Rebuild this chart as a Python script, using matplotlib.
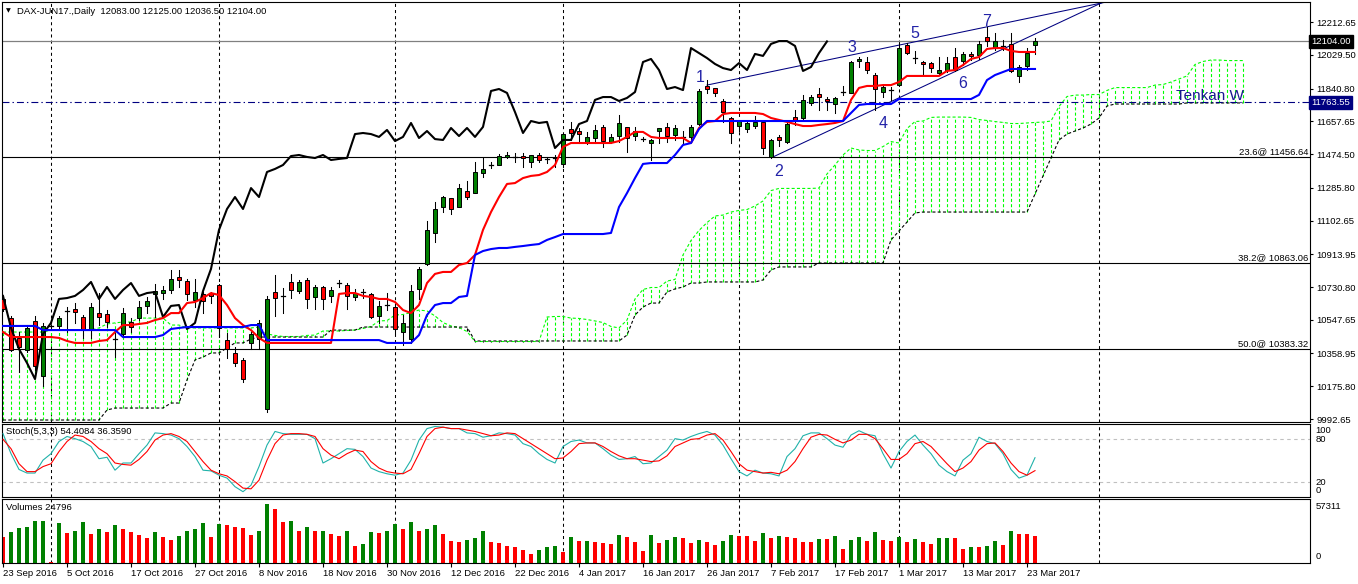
import matplotlib
matplotlib.use("Agg")
import matplotlib.pyplot as plt
from matplotlib.patches import Rectangle

# ---------------- data ----------------
DATE_LABELS = ["23 Sep 2016", "5 Oct 2016", "17 Oct 2016", "27 Oct 2016", "8 Nov 2016",
               "18 Nov 2016", "30 Nov 2016", "12 Dec 2016", "22 Dec 2016", "4 Jan 2017",
               "16 Jan 2017", "26 Jan 2017", "7 Feb 2017", "17 Feb 2017", "1 Mar 2017",
               "13 Mar 2017", "23 Mar 2017"]

OPEN = [10664, 10557, 10446, 10378, 10541, 10233, 10513, 10513, 10597, 10608,
        10563, 10496, 10585, 10580, 10440, 10468, 10535, 10557, 10625, 10692,
        10697, 10714, 10787, 10764, 10658, 10692, 10697, 10742, 10434, 10362,
        10323, 10418, 10440, 10049, 10703, 10681, 10759, 10708, 10770, 10675,
        10731, 10681, 10753, 10742, 10675, 10703, 10692, 10569, 10630, 10619,
        10479, 10440, 10720, 10859, 11033, 11178, 11229, 11178, 11268, 11256,
        11368, 11413, 11413, 11458, 11458, 11463, 11430, 11469, 11447, 11452,
        11419, 11614, 11603, 11542, 11564, 11626, 11542, 11575, 11626, 11575,
        11558, 11536, 11603, 11626, 11581, 11570, 11570, 11642, 11855, 11844,
        11771, 11676, 11631, 11614, 11631, 11654, 11458, 11570, 11542, 11681,
        11676, 11760, 11810, 11782, 11754, 11821, 11816, 11995, 11989, 11916,
        11821, 11832, 11860, 12084, 12011, 11989, 11983, 11928, 11944, 12017,
        11995, 12034, 12028, 12129, 12073, 12079, 12090, 11911, 11967, 12083]
HIGH = [10680, 10569, 10479, 10518, 10569, 10530, 10518, 10569, 10619, 10641,
        10574, 10641, 10697, 10602, 10474, 10613, 10557, 10653, 10675, 10748,
        10736, 10826, 10826, 10776, 10776, 10703, 10703, 10748, 10474, 10395,
        10334, 10479, 10546, 10681, 10798, 10725, 10804, 10770, 10781, 10742,
        10736, 10731, 10770, 10753, 10720, 10720, 10697, 10653, 10697, 10630,
        10574, 10742, 10843, 11100, 11206, 11240, 11229, 11307, 11324, 11430,
        11452, 11430, 11475, 11486, 11480, 11480, 11469, 11480, 11458, 11469,
        11586, 11654, 11620, 11598, 11637, 11637, 11586, 11693, 11626, 11626,
        11570, 11558, 11620, 11648, 11637, 11603, 11637, 11838, 11888, 11844,
        11782, 11681, 11665, 11654, 11687, 11659, 11558, 11581, 11654, 11721,
        11805, 11805, 11844, 11793, 11793, 11855, 11995, 12017, 12017, 11928,
        11860, 11849, 12095, 12095, 12051, 11995, 11989, 12017, 12017, 12067,
        12045, 12045, 12106, 12185, 12151, 12112, 12151, 11972, 12067, 12125]
LOW = [10597, 10373, 10255, 10367, 10267, 10177, 10507, 10502, 10479, 10530,
       10446, 10446, 10518, 10507, 10339, 10451, 10479, 10546, 10585, 10563,
       10664, 10697, 10731, 10658, 10619, 10585, 10641, 10451, 10334, 10289,
       10200, 10384, 10384, 10032, 10569, 10585, 10669, 10697, 10613, 10608,
       10608, 10647, 10731, 10608, 10658, 10669, 10557, 10530, 10602, 10474,
       10407, 10418, 10664, 10854, 10982, 11150, 11139, 11178, 11223, 11256,
       11346, 11396, 11413, 11452, 11430, 11402, 11402, 11430, 11424, 11402,
       11402, 11553, 11536, 11531, 11536, 11514, 11536, 11542, 11486, 11553,
       11547, 11441, 11536, 11542, 11553, 11536, 11553, 11637, 11816, 11799,
       11654, 11536, 11603, 11598, 11620, 11475, 11452, 11519, 11536, 11637,
       11670, 11749, 11721, 11721, 11704, 11805, 11816, 11961, 11928, 11721,
       11793, 11777, 11855, 12034, 11983, 11916, 11933, 11922, 11933, 11939,
       11972, 12000, 12006, 12079, 12056, 12056, 11933, 11877, 11944, 12036.5]
CLOSE = [10608, 10378, 10395, 10502, 10289, 10513, 10513, 10557, 10597, 10591,
         10496, 10619, 10563, 10535, 10440, 10585, 10507, 10619, 10653, 10708,
         10714, 10776, 10770, 10692, 10703, 10653, 10681, 10502, 10384, 10306,
         10216, 10468, 10530, 10664, 10669, 10681, 10714, 10759, 10664, 10731,
         10664, 10714, 10753, 10681, 10697, 10703, 10563, 10625, 10630, 10496,
         10530, 10708, 10832, 11050, 11167, 11234, 11167, 11284, 11234, 11374,
         11391, 11413, 11463, 11469, 11458, 11452, 11469, 11441, 11447, 11452,
         11586, 11592, 11586, 11570, 11609, 11547, 11570, 11648, 11564, 11603,
         11558, 11553, 11620, 11575, 11620, 11570, 11626, 11827, 11838, 11816,
         11709, 11592, 11659, 11648, 11654, 11508, 11553, 11553, 11642, 11659,
         11777, 11793, 11793, 11771, 11788, 11821, 11989, 12006, 11944, 11838,
         11849, 11832, 12067, 12039, 12011, 11978, 11955, 11944, 11983, 11944,
         12034, 12023, 12090, 12106, 12106, 12079, 11939, 11961, 12039, 12104]

TENKAN = [10479, 10451, 10451, 10451, 10451, 10451, 10451, 10446, 10429, 10418,
          10418, 10418, 10429, 10434, 10479, 10518, 10518, 10524, 10530, 10546,
          10557, 10585, 10585, 10641, 10647, 10669, 10697, 10686, 10630, 10557,
          10518, 10490, 10446, 10418, 10418, 10418, 10418, 10418, 10418, 10418,
          10418, 10418, 10692, 10697, 10697, 10681, 10675, 10664, 10664, 10647,
          10602, 10585, 10630, 10753, 10804, 10815, 10815, 10854, 10865, 10910,
          11050, 11150, 11234, 11307, 11312, 11340, 11352, 11357, 11374, 11413,
          11514, 11536, 11536, 11536, 11536, 11536, 11536, 11547, 11570, 11598,
          11598, 11570, 11564, 11564, 11564, 11564, 11536, 11620, 11654, 11659,
          11698, 11704, 11704, 11704, 11704, 11698, 11676, 11665, 11654, 11642,
          11631, 11631, 11637, 11642, 11648, 11659, 11777, 11844, 11855, 11855,
          11860, 11860, 11877, 11911, 11911, 11911, 11911, 11911, 11939, 11944,
          11972, 12006, 12017, 12062, 12067, 12067, 12051, 12045, 12045, 12045]
KIJUN = [10513, 10513, 10513, 10513, 10513, 10490, 10490, 10490, 10490, 10490,
         10490, 10490, 10490, 10490, 10490, 10451, 10451, 10451, 10451, 10451,
         10462, 10496, 10502, 10507, 10507, 10507, 10507, 10507, 10507, 10507,
         10507, 10518, 10518, 10434, 10434, 10434, 10434, 10434, 10434, 10434,
         10434, 10434, 10434, 10434, 10434, 10434, 10434, 10434, 10418, 10418,
         10418, 10418, 10462, 10574, 10630, 10641, 10641, 10675, 10681, 10910,
         10932, 10943, 10949, 10949, 10955, 10960, 10966, 10971, 10994, 11010,
         11027, 11027, 11027, 11027, 11027, 11027, 11033, 11178, 11256, 11340,
         11419, 11424, 11424, 11424, 11469, 11525, 11536, 11614, 11659, 11659,
         11659, 11659, 11659, 11659, 11659, 11659, 11659, 11659, 11659, 11659,
         11659, 11659, 11659, 11659, 11659, 11659, 11704, 11749, 11754, 11754,
         11754, 11754, 11782, 11782, 11782, 11782, 11782, 11782, 11782, 11782,
         11782, 11782, 11805, 11888, 11916, 11933, 11950, 11950, 11950, 11950]
SPAN_A = [10479, 10479, 10479, 10479, 10479, 10479, 10490, 10490, 10490, 10490,
          10490, 10490, 10502, 10524, 10530, 10535, 10535, 10557, 10557, 10557,
          10557, 10518, 10518, 10502, 10502, 10502, 10502, 10502, 10502, 10502,
          10502, 10502, 10507, 10468, 10460, 10454, 10454, 10454, 10460, 10462,
          10485, 10485, 10485, 10488, 10490, 10499, 10510, 10541, 10543, 10574,
          10577, 10588, 10602, 10597, 10569, 10532, 10513, 10504, 10482, 10426,
          10426, 10426, 10426, 10426, 10426, 10426, 10426, 10426, 10563, 10566,
          10566, 10557, 10555, 10549, 10541, 10532, 10510, 10502, 10546, 10664,
          10717, 10728, 10728, 10764, 10773, 10910, 10991, 11047, 11091, 11128,
          11133, 11150, 11159, 11164, 11184, 11212, 11270, 11282, 11282, 11282,
          11282, 11282, 11284, 11363, 11413, 11469, 11508, 11497, 11494, 11494,
          11516, 11544, 11536, 11617, 11656, 11659, 11679, 11681, 11681, 11681,
          11681, 11679, 11667, 11662, 11656, 11651, 11645, 11645, 11648, 11651,
          11653, 11659, 11740, 11796, 11804, 11804, 11807, 11807, 11830, 11846,
          11846, 11846, 11846, 11846, 11860, 11863, 11877, 11894, 11911, 11975,
          11992, 12000, 12000, 11997, 11997, 11997]
SPAN_B = [9987, 9987, 9987, 9987, 9987, 9987, 9987, 9987, 9987, 9987,
          9987, 9987, 9987, 10043, 10054, 10054, 10054, 10054, 10054, 10054,
          10054, 10082, 10082, 10211, 10323, 10339, 10362, 10362, 10390, 10418,
          10418, 10440, 10451, 10451, 10451, 10451, 10451, 10451, 10451, 10451,
          10451, 10490, 10490, 10490, 10490, 10507, 10507, 10507, 10507, 10507,
          10507, 10507, 10507, 10507, 10507, 10507, 10507, 10507, 10507, 10429,
          10429, 10429, 10429, 10429, 10429, 10429, 10429, 10429, 10429, 10429,
          10429, 10429, 10429, 10429, 10429, 10429, 10429, 10429, 10462, 10574,
          10619, 10641, 10641, 10703, 10720, 10731, 10753, 10753, 10759, 10759,
          10759, 10759, 10759, 10759, 10759, 10770, 10826, 10843, 10843, 10843,
          10843, 10843, 10865, 10865, 10865, 10865, 10865, 10865, 10865, 10865,
          10865, 10994, 11044, 11094, 11145, 11150, 11150, 11150, 11150, 11150,
          11150, 11150, 11150, 11150, 11150, 11150, 11150, 11150, 11150, 11251,
          11352, 11452, 11553, 11586, 11603, 11620, 11642, 11676, 11743, 11754,
          11754, 11754, 11754, 11754, 11754, 11754, 11754, 11754, 11760, 11760,
          11760, 11760, 11760, 11760, 11760, 11760]

STOCH_K = [88, 60, 38, 33, 33, 51, 60, 77, 84, 81,
           77, 70, 53, 55, 37, 47, 47, 60, 72, 89,
           88, 86, 81, 70, 56, 37, 36, 30, 26, 14,
           7, 16, 42, 72, 91, 88, 87, 87, 87, 81,
           47, 53, 60, 67, 66, 56, 40, 35, 32, 30,
           33, 51, 79, 95, 98, 97, 95, 95, 89, 88,
           83, 85, 89, 88, 86, 74, 70, 60, 52, 47,
           70, 77, 79, 75, 75, 67, 58, 52, 53, 56,
           46, 47, 56, 65, 81, 79, 84, 88, 91, 86,
           72, 53, 35, 29, 37, 33, 32, 29, 56, 67,
           85, 89, 89, 81, 72, 69, 86, 92, 87, 85,
           60, 40, 63, 77, 86, 72, 60, 44, 35, 29,
           51, 60, 83, 77, 74, 60, 38, 26, 30, 54.4084]
STOCH_D = [80, 67, 46, 35, 35, 42, 46, 63, 77, 86,
           84, 77, 67, 60, 47, 45, 44, 52, 63, 79,
           86, 88, 84, 77, 63, 49, 37, 32, 29, 21,
           12, 11, 23, 51, 74, 86, 88, 88, 87, 84,
           67, 58, 53, 60, 65, 63, 49, 40, 35, 33,
           32, 38, 60, 84, 95, 97, 95, 95, 93, 91,
           88, 85, 86, 89, 88, 81, 74, 67, 60, 53,
           54, 63, 74, 75, 75, 70, 63, 57, 53, 53,
           51, 49, 50, 57, 70, 75, 80, 81, 86, 88,
           79, 63, 46, 37, 35, 33, 34, 32, 37, 49,
           67, 83, 87, 86, 80, 75, 79, 87, 87, 81,
           67, 52, 52, 60, 74, 77, 70, 58, 46, 35,
           40, 49, 65, 74, 75, 63, 47, 35, 30, 36.3590]

VOLUME = [23870, 28520, 32240, 33170, 38750, 38900, 930, 36890, 27590, 29450,
          37820, 26660, 31310, 28520, 35030, 31310, 28520, 25730, 22940, 28520,
          23870, 21080, 24800, 29450, 31310, 36890, 23870, 35960, 35030, 33170,
          32240, 25730, 29450, 54560, 49910, 37820, 38750, 29450, 33170, 29450,
          29760, 26660, 24800, 29450, 15500, 17360, 28520, 27590, 29450, 35960,
          31310, 37820, 29450, 31310, 35030, 26660, 20150, 19220, 21080, 22940,
          29450, 19220, 18290, 15500, 14570, 11780, 8060, 11780, 14570, 15500,
          9920, 23870, 20150, 20460, 19220, 18290, 17360, 25730, 23870, 19220,
          10850, 25730, 18290, 21080, 23870, 22940, 18290, 21080, 19220, 16430,
          20150, 25730, 24800, 24800, 20150, 27590, 22940, 24800, 23870, 22940,
          19220, 19220, 22010, 22010, 24800, 12710, 21080, 23870, 20150, 28520,
          21080, 20150, 23870, 19220, 22010, 19220, 17360, 22940, 23250, 22940,
          12710, 14570, 14570, 15500, 20150, 16430, 29450, 26660, 26660, 24796]
VOLUME_SCALE_MAX = 57311

PRICE_TICKS = [12212.65, 12029.50, 11840.80, 11657.65, 11474.50, 11285.80, 11102.65,
               10913.95, 10730.80, 10547.65, 10358.95, 10175.80, 9992.65]
FIB_LEVELS = [(23.6, 11456.64), (38.2, 10863.06), (50.0, 10383.32)]
BID = 12104.00
TENKAN_W = 11763.55
HEADER = "DAX-JUN17.,Daily  12083.00 12125.00 12036.50 12104.00"
STOCH_HEADER = "Stoch(5,3,3) 54.4084 36.3590"
VOL_HEADER = "Volumes 24796"
# trend lines: (bar, price) end points
TREND_LINES = [((88.0, 11860), (138.5, 12330)), ((96.25, 11458), (137.8, 12330))]
WAVE_LABELS = ["1", "2", "3", "4", "5", "6", "7"]
GRID_BARS = [6, 27, 49, 70, 92, 112, 137]
CHIKOU_SHIFT = 26

# ---------------- layout ----------------
W, H = 1358, 584
plt.rcParams['font.family'] = ['Liberation Sans', 'DejaVu Sans']
plt.rcParams['lines.scale_dashes'] = False
fig = plt.figure(figsize=(W / 100, H / 100), dpi=100)
fig.patch.set_facecolor('white')


def rect(x0, y0, x1, y1):
    return [x0 / W, 1 - y1 / H, (x1 - x0) / W, (y1 - y0) / H]


def fx(px):
    return px / W


def fy(py):
    return 1 - py / H


ax = fig.add_axes(rect(2, 2, 1310, 422))
axs = fig.add_axes(rect(2, 424, 1310, 497))
axv = fig.add_axes(rect(2, 499, 1310, 563))

FS = 6.8
N = len(CLOSE)
XMIN, XMAX = -0.125, 163.375
DOT = (0, (2.2, 1.6))
LIME = '#00ff00'
for a in (ax, axs, axv):
    a.set_xlim(XMIN, XMAX)
    a.set_facecolor('white')
    for s in a.spines.values():
        s.set_linewidth(0.8)
        s.set_color('black')
    for g in GRID_BARS:
        a.axvline(g, color='black', lw=0.75, ls=(0, (2.2, 2.2)), zorder=0.5)

# ---------------- main price panel ----------------
ax.set_ylim(9975.9, 12324.5)

# Ichimoku cloud hatch: one dotted vertical per bar between span A and span B
nc = len(SPAN_A)
for i in range(nc):
    a_, b_ = SPAN_A[i], SPAN_B[i]
    col = LIME if a_ >= b_ else '#000000'
    ax.plot([i, i], [min(a_, b_), max(a_, b_)], color=col, lw=0.8, ls=DOT, zorder=1)
ax.plot(range(nc), SPAN_A, color=LIME, lw=0.8, ls=DOT, zorder=1.1)
ax.plot(range(nc), SPAN_B, color='black', lw=0.8, ls=DOT, zorder=1.1)

# horizontal lines
for pct, lvl in FIB_LEVELS:
    ax.axhline(lvl, color='black', lw=0.8, zorder=1.5)
    ax.text(0.9985, lvl + 6, f"{pct:.1f}@ {lvl:.2f}", transform=ax.get_yaxis_transform(),
            ha='right', va='bottom', fontsize=FS, color='black', zorder=6)
ax.axhline(BID, color='#808080', lw=0.9, zorder=1.5)
ax.axhline(TENKAN_W, color='#000080', lw=0.8, ls=(0, (5, 2.2, 1, 2.2)), zorder=1.5)

# trend lines
for (x0, p0), (x1, p1) in TREND_LINES:
    ax.plot([x0, x1], [p0, p1], color='#000080', lw=0.75, zorder=2)

# candles
BW = 0.6
for i in range(N):
    o, h, l, c = OPEN[i], HIGH[i], LOW[i], CLOSE[i]
    ax.plot([i, i], [l, h], color='black', lw=0.75, zorder=3)
    if abs(c - o) < 1.5:
        ax.plot([i - BW / 2, i + BW / 2], [c, c], color='black', lw=0.9, zorder=3.2)
    else:
        fc = '#008000' if c > o else '#ff0000'
        ax.add_patch(Rectangle((i - BW / 2, min(o, c)), BW, abs(c - o), facecolor=fc,
                               edgecolor='black', lw=0.7, zorder=3.1))

# chikou span (close shifted back), tenkan, kijun
chik_x = list(range(N - CHIKOU_SHIFT))
chik_y = CLOSE[CHIKOU_SHIFT:]
ax.plot(chik_x, chik_y, color='black', lw=1.5, zorder=4)
ax.plot(range(N), TENKAN, color='#ff0000', lw=1.5, zorder=4.1)
ax.plot(range(N), KIJUN, color='#0000ff', lw=1.5, zorder=4.2)

# right axis
ax.yaxis.tick_right()
ax.set_yticks(PRICE_TICKS)
ax.set_yticklabels([f"{v:.2f}" for v in PRICE_TICKS])
ax.tick_params(axis='y', direction='out', length=2.5, width=0.8, pad=2, labelsize=FS)
ax.set_xticks([])
ax.text(1.0012, BID, f"{BID:.2f}", transform=ax.get_yaxis_transform(), ha='left', va='center',
        fontsize=FS, color='white', zorder=10, clip_on=False,
        bbox=dict(boxstyle='square,pad=0.22', fc='black', ec='black'))
ax.text(1.0012, TENKAN_W, f"{TENKAN_W:.2f}", transform=ax.get_yaxis_transform(), ha='left',
        va='center', fontsize=FS, color='white', zorder=10, clip_on=False,
        bbox=dict(boxstyle='square,pad=0.22', fc='#000080', ec='#000080'))

# annotations
wave_pos = [(700, 77), (779, 171), (852, 47), (883, 123), (915, 33), (963, 84), (987, 21)]
for lab, (px, py) in zip(WAVE_LABELS, wave_pos):
    fig.text(fx(px), fy(py), lab, ha='center', va='center', fontsize=11.5, color='#2323a8')
fig.text(fx(1176), fy(100), "Tenkan W", ha='left', va='baseline', fontsize=11, color='#1a1a90')
fig.text(fx(6), fy(11), "\u25bc", ha='left', va='center', fontsize=4.5, color='black',
         family='DejaVu Sans')
fig.text(fx(17), fy(11), HEADER, ha='left', va='center', fontsize=FS, color='black')

# ---------------- stochastic panel ----------------
axs.set_ylim(-0.4, 101.4)
axs.axhline(80, color='#c0c0c0', lw=0.8, ls=(0, (2.5, 2.5)))
axs.axhline(20, color='#c0c0c0', lw=0.8, ls=(0, (2.5, 2.5)))
axs.plot(range(N), STOCH_K, color='#20b2aa', lw=0.8, zorder=3)
axs.plot(range(N), STOCH_D, color='#ff0000', lw=0.8, zorder=3.1)
axs.set_xticks([])
axs.set_yticks([])
for lab, v in [("100", 93), ("80", 80), ("20", 20), ("0", 8.5)]:
    axs.text(1.004, v, lab, transform=axs.get_yaxis_transform(), ha='left', va='center',
             fontsize=FS, clip_on=False)
fig.text(fx(6), fy(432), STOCH_HEADER, ha='left', va='center', fontsize=FS)

# ---------------- volume panel ----------------
axv.set_ylim(-300, 59240)
vcols = ['#ff0000'] + ['#008000' if VOLUME[i] > VOLUME[i - 1] else '#ff0000' for i in range(1, N)]
axv.bar(range(N), VOLUME, width=0.6, color=vcols, zorder=2)
axv.set_yticks([])
axv.text(1.004, 51800, f"{VOLUME_SCALE_MAX}", transform=axv.get_yaxis_transform(), ha='left',
         va='center', fontsize=FS, clip_on=False)
axv.text(1.004, 5300, "0", transform=axv.get_yaxis_transform(), ha='left', va='center',
         fontsize=FS, clip_on=False)
fig.text(fx(6), fy(508), VOL_HEADER, ha='left', va='center', fontsize=FS)

axv.set_xticks(list(range(0, 8 * len(DATE_LABELS), 8)))
axv.set_xticklabels(DATE_LABELS)
axv.tick_params(axis='x', direction='out', length=3, width=0.8, pad=1.5, labelsize=FS)
for t in axv.get_xticklabels():
    t.set_ha('left')

fig.savefig("out.png", dpi=100, facecolor='white')
